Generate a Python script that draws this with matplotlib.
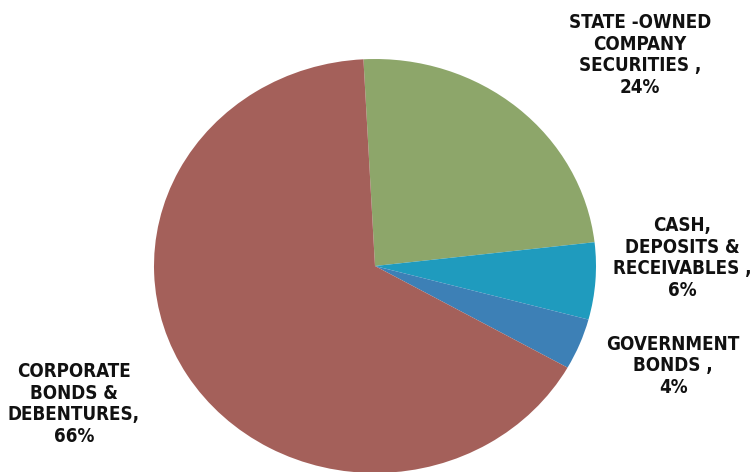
import matplotlib
matplotlib.use("Agg")
import matplotlib.pyplot as plt

# Portfolio composition (percent of total)
categories = ["STATE -OWNED\nCOMPANY\nSECURITIES ,", "CASH,\nDEPOSITS &\nRECEIVABLES ,",
              "GOVERNMENT\nBONDS ,", "CORPORATE\nBONDS &\nDEBENTURES,"]
shares = [24, 6, 4, 66]
colors = ["#8da66a", "#1f9bbe", "#3d80b6", "#a4605a"]

# label anchor points in figure pixels (x from left, y from top)
label_xy = [(640, 55), (682, 258), (673, 366), (74, 404)]

W, H = 752, 472
cx, cy = 375, 266      # pie centre in pixels
rx, ry = 221, 207      # horizontal / vertical radius in pixels

fig = plt.figure(figsize=(W / 100, H / 100), dpi=100)
ax = fig.add_axes([0, 0, 1, 1])

ax.pie(shares, colors=colors, startangle=93, counterclock=False,
       radius=1.0, center=(0, 0), wedgeprops=dict(linewidth=0))

ax.set_aspect("auto")
ax.set_xlim(-cx / rx, (W - cx) / rx)
ax.set_ylim(-(H - cy) / ry, cy / ry)
ax.axis("off")

font = ["DejaVu Sans"]
for cat, val, (px, py) in zip(categories, shares, label_xy):
    fig.text(px / W, 1 - py / H, f"{cat}\n{val}%", ha="center", va="center",
             multialignment="center", fontsize=13.5, fontweight="bold",
             fontstretch="condensed", family=font, color="#111111",
             linespacing=1.18)

fig.savefig("out.png", dpi=100, facecolor="white")
